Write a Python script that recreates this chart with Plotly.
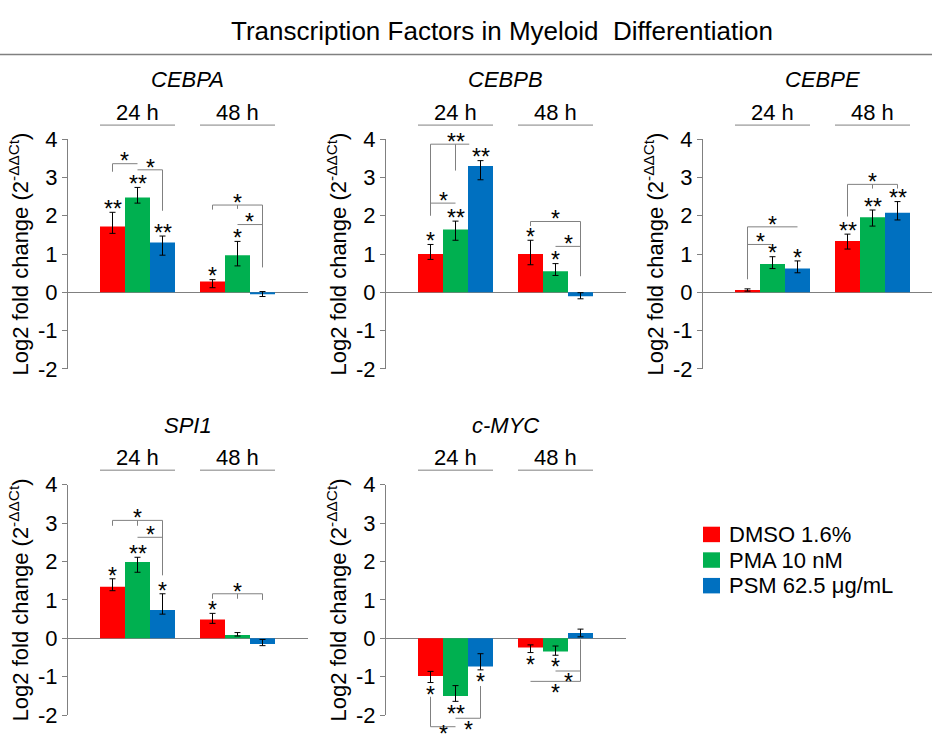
import plotly.graph_objects as go

# ---------------- data ----------------
genes = ["CEBPA", "CEBPB", "CEBPE", "SPI1", "c-MYC"]
treatments = ["DMSO 1.6%", "PMA 10 nM", "PSM 62.5 μg/mL"]
timepoints = ["24 h", "48 h"]
colors = ["#FF0000", "#00B050", "#0070C0"]

# order: [24h DMSO, 24h PMA, 24h PSM, 48h DMSO, 48h PMA, 48h PSM]
cebpa_mean = [1.72, 2.48, 1.30, 0.28, 0.97, -0.05]
cebpa_err_up = [0.37, 0.26, 0.17, 0.05, 0.36, 0.07]
cebpa_err_dn = [0.18, 0.15, 0.33, 0.16, 0.28, 0.06]
cebpa_sig = ["**", "**", "**", "*", "*", ""]

cebpb_mean = [1.00, 1.64, 3.30, 1.00, 0.55, -0.10]
cebpb_err_up = [0.25, 0.22, 0.14, 0.36, 0.20, 0.09]
cebpb_err_dn = [0.14, 0.28, 0.36, 0.28, 0.11, 0.07]
cebpb_sig = ["*", "**", "**", "*", "*", ""]

cebpe_mean = [0.06, 0.74, 0.62, 1.34, 1.96, 2.08]
cebpe_err_up = [0.03, 0.19, 0.20, 0.18, 0.19, 0.29]
cebpe_err_dn = [0.03, 0.12, 0.11, 0.21, 0.23, 0.19]
cebpe_sig = ["", "*", "*", "**", "**", "**"]

spi1_mean = [1.34, 1.99, 0.74, 0.49, 0.09, -0.15]
spi1_err_up = [0.21, 0.12, 0.42, 0.16, 0.06, 0.12]
spi1_err_dn = [0.10, 0.27, 0.11, 0.10, 0.03, 0.04]
spi1_sig = ["*", "**", "*", "*", "", ""]

cmyc_mean = [-0.98, -1.50, -0.73, -0.24, -0.34, 0.14]
cmyc_err_up = [0.12, 0.27, 0.33, 0.07, 0.14, 0.10]
cmyc_err_dn = [0.17, 0.14, 0.09, 0.13, 0.10, 0.10]
cmyc_sig = ["*", "**", "*", "*", "*", ""]

y_ticks = [4, 3, 2, 1, 0, -1, -2]
y_tick_labels = ["4", "3", "2", "1", "0", "-1", "-2"]

# pairwise comparisons: (bar_from, bar_to, level, [(bar, drop_to)], star_at, label)
cebpa_pairs = [(0, 1, 3.36, [(0, 3.15)], 0.5, "*"),
               (1, 2, 3.20, [(2, 2.13)], 1.5, "*"),
               (3, 5, 2.28, [(3, 2.16), (4, 2.18), (5, 0.65)], 4, "*"),
               (4, 5, 1.77, [], 4.5, "*")]
cebpb_pairs = [(0, 1.55, 3.87, [(0, 2.0), (1, 3.18)], 1, "**"),
               (0, 1, 2.33, [], 0.5, "*"),
               (3, 5, 1.85, [(3, 1.73), (5, 0.42)], 4, "*"),
               (4, 5, 1.20, [], 4.5, "*")]
cebpe_pairs = [(0, 2, 1.71, [(0, 0.34)], 1, "*"),
               (0, 0.95, 1.25, [], 0.5, "*"),
               (3, 5, 2.82, [(3, 1.98), (4, 2.71), (5, 2.71)], 4, "*")]
spi1_pairs = [(0, 2, 3.07, [(0, 2.93), (1, 2.93), (2, 1.64)], 1, "*"),
              (1, 2, 2.63, [], 1.5, "*"),
              (3, 5, 1.16, [(3, 1.03), (4, 1.03), (5, 1.0)], 4, "*")]
cmyc_pairs = [(0, 1, -2.30, [(0, -1.52)], 0.5, "*"),
              (1, 2, -2.08, [(2, -1.24)], 1.5, "*"),
              (4, 5, -0.85, [], 4.5, "*"),
              (3, 5, -1.12, [(5, -0.03)], 4, "*")]

panels = [
    (cebpa_mean, cebpa_err_up, cebpa_err_dn, cebpa_sig, cebpa_pairs),
    (cebpb_mean, cebpb_err_up, cebpb_err_dn, cebpb_sig, cebpb_pairs),
    (cebpe_mean, cebpe_err_up, cebpe_err_dn, cebpe_sig, cebpe_pairs),
    (spi1_mean, spi1_err_up, spi1_err_dn, spi1_sig, spi1_pairs),
    (cmyc_mean, cmyc_err_up, cmyc_err_dn, cmyc_sig, cmyc_pairs),
]

# ---------------- layout geometry ----------------
W, H = 932, 748
FONT = "Liberation Sans, Arial, Helvetica, sans-serif"
GRAY = "#808080"
PANEL_POS = [(0, 0), (0, 1), (0, 2), (1, 0), (1, 1)]
AXIS_PX = [68, 386, 703]
ROW_PX = [(131.6, 369.2), (489.0, 727.5)]  # pixel of y=4 and y=-2
PLOT_W = 240
BAR_PX = 25.0
X0 = -1.78
TITLE_Y = [70, 427.5]
GROUP_Y = [103.5, 460.5]
UNDER_Y = [117, 474]
STAR_SIZE = 23
STAR_SHIFT = -4.5
LABEL_SIZE = 22


def bar_pos(i):
    return (i // 3) * 4 + (i % 3)


def xpx(col, xv):
    return AXIS_PX[col] + (xv - X0) * BAR_PX


def ypx(row, v):
    top, bot = ROW_PX[row]
    return bot - (v + 2) / 6.0 * (bot - top)


def px(x):
    return x / W


def py(y):
    return 1 - y / H


fig = go.Figure()
shapes = []
annotations = []


def line(x0, y0, x1, y1, width=1, color=GRAY):
    shapes.append(dict(type="line", xref="paper", yref="paper",
                       x0=px(x0), y0=py(y0), x1=px(x1), y1=py(y1),
                       line=dict(color=color, width=width)))


def text(x, y, t, size=LABEL_SIZE, family=FONT, xanchor="center", yshift=0):
    annotations.append(dict(x=px(x), y=py(y), xref="paper", yref="paper", text=t,
                            showarrow=False, xanchor=xanchor, yanchor="middle",
                            yshift=yshift,
                            font=dict(size=size, family=family, color="black")))


layout_axes = {}
for k, (mean, up, dn, sig, pairs) in enumerate(panels):
    row, col = PANEL_POS[k]
    suf = "" if k == 0 else str(k + 1)
    right = min(AXIS_PX[col] + PLOT_W, W)
    for t in range(3):
        idx = [t, 3 + t]
        fig.add_trace(go.Bar(
            x=[bar_pos(i) for i in idx], y=[mean[i] for i in idx], width=1,
            marker=dict(color=colors[t], line=dict(width=0)),
            error_y=dict(type="data", symmetric=False,
                         array=[up[i] for i in idx], arrayminus=[dn[i] for i in idx],
                         color="black", thickness=1, width=3),
            name=treatments[t], showlegend=False,
            xaxis="x" + suf, yaxis="y" + suf))
    top, bot = ROW_PX[row]
    layout_axes["xaxis" + suf] = dict(domain=[AXIS_PX[col] / W, right / W],
                                      range=[X0, X0 + (right - AXIS_PX[col]) / BAR_PX],
                                      visible=False, fixedrange=True, anchor="y" + suf)
    layout_axes["yaxis" + suf] = dict(
        domain=[1 - bot / H, 1 - top / H], range=[-2, 4], anchor="x" + suf,
        showline=True, linecolor=GRAY, linewidth=1, ticks="outside", ticklen=5,
        tickcolor=GRAY, tickvals=y_ticks, ticktext=y_tick_labels,
        tickfont=dict(size=22, color="black", family=FONT),
        zeroline=True, zerolinecolor=GRAY, zerolinewidth=1, showgrid=False,
        fixedrange=True,
        title=dict(text="Log2 fold change (2<sup>-ΔΔCt</sup>)",
                   font=dict(size=22, color="black", family=FONT), standoff=3))

    # gene title and time labels
    text(xpx(col, 3), TITLE_Y[row], "<i>%s</i>" % genes[k])
    for g, lab in enumerate(timepoints):
        c = g * 4 + 1
        text(xpx(col, c), GROUP_Y[row], lab)
        line(xpx(col, c - 1.5), UNDER_Y[row], xpx(col, c + 1.5), UNDER_Y[row])

    # significance marks on bars
    for i in range(6):
        if not sig[i]:
            continue
        if mean[i] >= 0:
            yc = ypx(row, mean[i] + up[i]) - 8
        else:
            yc = ypx(row, mean[i] - dn[i]) + 8
        text(xpx(col, bar_pos(i)), yc, sig[i], size=STAR_SIZE, yshift=STAR_SHIFT)

    # comparison brackets
    for (a, b, lev, drops, sx, lab) in pairs:
        xa = xpx(col, bar_pos(a) if float(a).is_integer() else a)
        xb_v = b if not float(b).is_integer() else bar_pos(int(b))
        xb = xpx(col, xb_v)
        yl = ypx(row, lev)
        line(xa, yl, xb, yl)
        for (bi, yend) in drops:
            xd = xpx(col, bar_pos(bi))
            line(xd, yl, xd, ypx(row, yend))
        sxv = (bar_pos(int(sx)) if float(sx).is_integer()
               else (bar_pos(int(sx)) + bar_pos(int(sx) + 1)) / 2)
        ys = min(yl + 7, H - 6) if lev < 0 else yl - 7
        text(xpx(col, sxv), ys, lab, size=STAR_SIZE, yshift=STAR_SHIFT)

# main title and rule
text(502, 20, "Transcription Factors in Myeloid\u00a0 Differentiation", size=26)
line(0, 44, W, 44, width=1.5)

# legend (manual)
LEG_Y = [540.5, 567, 593.5]
for t in range(3):
    shapes.append(dict(type="rect", xref="paper", yref="paper",
                       x0=px(703), x1=px(720), y0=py(LEG_Y[t] - 8), y1=py(LEG_Y[t] + 8),
                       fillcolor=colors[t], line=dict(width=0)))
    text(727, LEG_Y[t], treatments[t], xanchor="left")

fig.update_layout(
    width=W, height=H, margin=dict(l=0, r=0, t=0, b=0),
    paper_bgcolor="white", plot_bgcolor="rgba(0,0,0,0)",
    barmode="overlay", showlegend=False, font=dict(family=FONT, color="black"),
    shapes=shapes, annotations=annotations, **layout_axes)

fig.write_html("out.html", config={"displayModeBar": False},
               post_script="document.body.style.margin='0';")
